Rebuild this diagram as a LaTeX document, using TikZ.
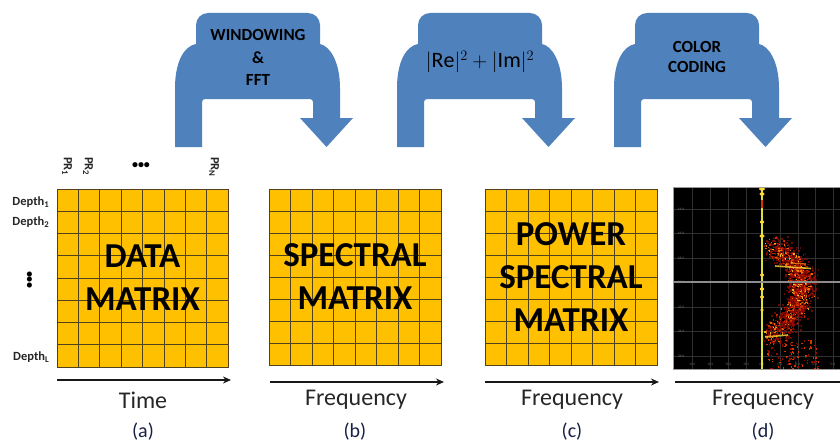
\documentclass[tikz,border=0pt]{standalone}
\usepackage{fontspec}
\setmainfont{Carlito}
\usetikzlibrary{arrows.meta,calc}

\definecolor{flowblue}{RGB}{79,129,189}
\definecolor{cellfill}{RGB}{255,192,0}
\definecolor{cellline}{RGB}{80,66,30}
\definecolor{capcol}{RGB}{25,32,70}
\definecolor{specgrid}{RGB}{48,48,48}
\definecolor{spk0}{RGB}{150,10,0}
\definecolor{spk1}{RGB}{215,50,0}
\definecolor{spk2}{RGB}{250,130,10}
\definecolor{spk3}{RGB}{255,215,50}
\definecolor{zeroline}{RGB}{220,225,60}

\begin{document}
\begin{tikzpicture}[x=1pt,y=-1pt,
  flowtext/.style={text=black,align=center,inner sep=0pt,
    font=\bfseries\fontsize{17}{22.5}\selectfont},
  matrixbox/.style={rectangle,fill=cellfill,draw=cellline,line width=0.6pt,
    inner sep=0pt,align=center,text=black,
    font=\bfseries\fontsize{35}{43}\selectfont,
    path picture={
      \foreach \k in {1,...,7}{
        \draw[cellline,line width=0.6pt]
          ($(path picture bounding box.south west)!\k/8!(path picture bounding box.south east)$) --
          ($(path picture bounding box.north west)!\k/8!(path picture bounding box.north east)$);
        \draw[cellline,line width=0.6pt]
          ($(path picture bounding box.south west)!\k/8!(path picture bounding box.north west)$) --
          ($(path picture bounding box.south east)!\k/8!(path picture bounding box.north east)$);
      }}},
  axisline/.style={line width=1.3pt,black!90},
  axisarrow/.style={axisline,-{Stealth[length=8pt,width=7pt]}},
  axislabel/.style={inner sep=0pt,text=black!85,font=\fontsize{24}{26}\selectfont},
  caplabel/.style={inner sep=0pt,text=capcol,font=\fontsize{20}{22}\selectfont},
  depthlab/.style={inner sep=0pt,anchor=east,text=black!85,font=\bfseries\fontsize{12.5}{14}\selectfont},
  prlab/.style={inner sep=0pt,anchor=west,rotate=-90,text=black!85,font=\bfseries\fontsize{12.5}{14}\selectfont},
  ticklab/.style={inner sep=0pt,text=black!55,font=\fontsize{3.6}{4}\selectfont}
]
\useasboundingbox (0,0) rectangle (840,444);

% ---------- U-turn processing arrows ----------
\foreach \ox in {175,397,614}{
  \begin{scope}[shift={(\ox,0)}]
    \fill[flowblue]
      (0,147) -- (0,88)
      .. controls (0,62) and (9,46) .. (21,44)
      -- (21,25) .. controls (21,18.4) and (26.4,13) .. (33,13)
      -- (133,13) .. controls (139.6,13) and (145,18.4) .. (145,25)
      -- (145,44)
      .. controls (155,46) and (165,62) .. (165,88)
      -- (165,118) -- (178,118) -- (151.5,147) -- (125,118) -- (138,118)
      -- (138,102) .. controls (138,100.3) and (136.7,99) .. (135,99)
      -- (30,99) .. controls (28.3,99) and (27,100.3) .. (27,102)
      -- (27,147) -- cycle;
  \end{scope}
}
\node[flowtext] (fft) at (258,57.5) {WINDOWING\\\&\\FFT};
\node[inner sep=0pt,text=black,font=\fontsize{22}{24}\selectfont] (pow) at (480,62)
  {$|\mathrm{Re}|^2+|\mathrm{Im}|^2$};
\node[flowtext,font=\bfseries\fontsize{17}{20}\selectfont] (col) at (697,57) {COLOR\\CODING};

% ---------- matrices ----------
\node[matrixbox,minimum width=171pt,minimum height=178pt] (ma) at (142.5,278) {DATA\\MATRIX};
\node[matrixbox,minimum width=172pt,minimum height=176pt] (mb) at (355,277) {SPECTRAL\\MATRIX};
\node[matrixbox,minimum width=172pt,minimum height=176pt] (mc) at (571,277) {POWER\\SPECTRAL\\MATRIX};

% row and column labels of the data matrix
\node[prlab] (pr1) at (67,157) {PR\textsubscript{1}};
\node[prlab] (pr2) at (88,157) {PR\textsubscript{2}};
\node[prlab] (prn) at (214,157) {PR\textsubscript{N}};
\node[inner sep=0pt,font=\bfseries\fontsize{12}{13}\selectfont] (hdots) at (141,166) {•••};
\node[depthlab] (dp1) at (49.5,202) {Depth\textsubscript{1}};
\node[depthlab] (dp2) at (49.5,222) {Depth\textsubscript{2}};
\node[depthlab] (dpl) at (49.5,357) {Depth\textsubscript{L}};
\node[inner sep=0pt,rotate=90,font=\bfseries\fontsize{12}{13}\selectfont] (vdots) at (30,280) {•••};

% ---------- spectrogram ----------
\node[inner sep=0pt,outer sep=0pt,fill=black,minimum width=167pt,minimum height=182pt] (md) at (756.5,278) {};
\begin{scope}
  \clip (md.north west) rectangle (md.south east);
  \foreach \gy in {209,233,258,307,331,356}{
    \draw[specgrid,line width=0.4pt] (673,\gy) -- (840,\gy);
  }
  \foreach \gx in {692,710,728,746,780,798,815,833}{
    \draw[specgrid,line width=0.4pt] (\gx,187) -- (\gx,369);
  }
  \foreach \gy/\tx in {209/14.0,233/16.0,258/18.0,282/20.0,307/22.0,331/24.0,356/26.0}{
    \node[ticklab] at (681,\gy) {\tx};
  }
  \foreach \gx/\tx in {692/-0.4,710/-0.3,728/-0.2,746/-0.1,762/0.0,780/0.1,798/0.2,815/0.3,833/0.4}{
    \node[ticklab] at (\gx,364) {\tx};
  }
\end{scope}
\begin{scope}
  \clip (763.5,187) rectangle (840,369);
  \pgfmathsetseed{31}
  % dim halo of the echo band
  \foreach \i in {1,...,700}{
    \pgfmathsetmacro\t{rnd}
    \pgfmathsetmacro\u{1-\t}
    \pgfmathsetmacro\bx{\u*\u*770+2*\u*\t*834+\t*\t*769+9*(rand+rand)}
    \pgfmathsetmacro\by{\u*\u*245+2*\u*\t*280+\t*\t*337+6.5*(rand+rand)}
    \fill[spk0,opacity=0.7] (\bx,\by) rectangle ++(1.8,1.8);
  }
  % brighter core of the echo band
  \foreach \i in {1,...,1000}{
    \pgfmathsetmacro\t{rnd}
    \pgfmathsetmacro\u{1-\t}
    \pgfmathsetmacro\bx{\u*\u*770+2*\u*\t*834+\t*\t*769+6.5*(rand+rand)}
    \pgfmathsetmacro\by{\u*\u*245+2*\u*\t*280+\t*\t*337+5*(rand+rand)}
    \pgfmathtruncatemacro\c{min(3,int(4.4*rnd*rnd+0.3*rnd))}
    \fill[spk\c,opacity=0.85] (\bx,\by) rectangle ++(1.4,1.4);
  }
  % sparse returns below the band
  \foreach \i in {1,...,110}{
    \pgfmathsetmacro\bx{792+26*rand}
    \pgfmathsetmacro\by{354+15*rand}
    \pgfmathtruncatemacro\c{int(2*rnd)}
    \fill[spk\c] (\bx,\by) rectangle ++(1.5,1.5);
  }
  % bright streaks
  \draw[spk3,line width=1.6pt,opacity=0.8] (775,266) -- (811,268.5);
  \draw[spk2,line width=1.2pt,opacity=0.8] (790,263) -- (806,264);
  \draw[spk3,line width=1.6pt,opacity=0.8] (765,337) -- (788,335);
\end{scope}
% zero-frequency line and its bright spots
\draw[zeroline,line width=1.8pt] (762,187) -- (762,369);
\foreach \sy/\sr in {189/3,194/2.5,222/2.2,236/2.5,275/2,289/2.2,297/2,310/1.8}{
  \fill[spk3] (762,\sy) ellipse[x radius=\sr,y radius=1.6];
}
\fill[spk1] (761,200) rectangle (763,208);
\draw[black!45,line width=1.1pt] (673,282) -- (840,282);
\draw[black!40,line width=0.8pt] (840,187) -- (673,187) -- (673,369) -- (840,369);

% ---------- axes and captions ----------
\coordinate (xa0) at (57,380);   \coordinate (xa1) at (231,380);
\coordinate (xb0) at (270,382);  \coordinate (xb1) at (444,382);
\coordinate (xc0) at (485,382);  \coordinate (xc1) at (659,382);
\coordinate (xd0) at (675,382);  \coordinate (xd1) at (840,382);
\draw[axisarrow] (xa0) -- (xa1);
\draw[axisarrow] (xb0) -- (xb1);
\draw[axisarrow] (xc0) -- (xc1);
\draw[axisline] (xd0) -- (xd1);

\node[axislabel] (lta) at (143,400) {Time};
\node[axislabel] (ltb) at (356,400) {Frequency};
\node[axislabel] (ltc) at (572,400) {Frequency};
\node[axislabel] (ltd) at (763,400) {Frequency};
\node[caplabel] (cpa) at (143,432) {(a)};
\node[caplabel] (cpb) at (355,432) {(b)};
\node[caplabel] (cpc) at (572,432) {(c)};
\node[caplabel] (cpd) at (763,432) {(d)};
\end{tikzpicture}
\end{document}
